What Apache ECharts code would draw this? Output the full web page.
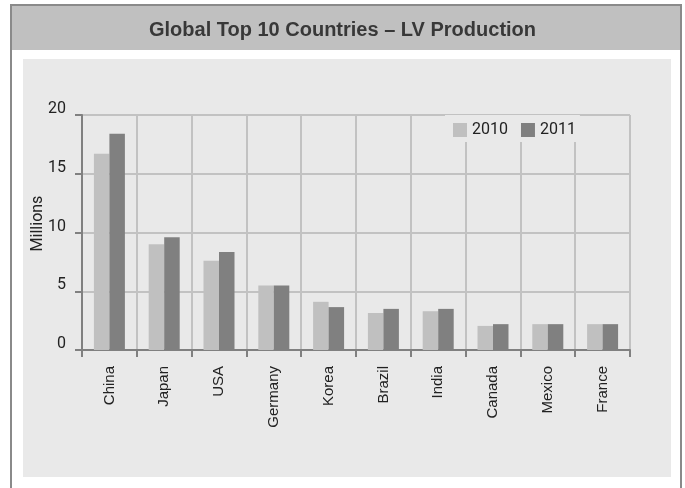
<!DOCTYPE html>
<html>
<head>
<meta charset="utf-8">
<script src="https://cdn.jsdelivr.net/npm/echarts@6/dist/echarts.min.js"></script>
<style>
html,body{margin:0;padding:0;background:#fff;}
#chart{width:685px;height:488px;}
</style>
</head>
<body>
<div id="chart"></div>
<script>
const categories = ['China','Japan','USA','Germany','Korea','Brazil','India','Canada','Mexico','France'];
const seriesNames = ['2010','2011'];
const values2010 = [16.7, 9.0, 7.6, 5.5, 4.1, 3.15, 3.3, 2.05, 2.2, 2.2];
const values2011 = [18.4, 9.6, 8.35, 5.5, 3.65, 3.5, 3.5, 2.2, 2.2, 2.2];
const yTicks = [0, 5, 10, 15, 20];
const titleText = 'Global Top 10 Countries \u2013 LV Production';
const yName = 'Millions';

const narrow = '"Roboto", sans-serif';
const chart = echarts.init(document.getElementById('chart'));
chart.setOption({
  animation: false,
  backgroundColor: '#ffffff',
  graphic: [
    {type:'rect', z:-20, shape:{x:11, y:6, width:670, height:44}, style:{fill:'#c0c0c0'}},
    {type:'rect', z:-20, shape:{x:23, y:59, width:648, height:418}, style:{fill:'#e9e9e9'}},
    {type:'polyline', z:-19, shape:{points:[[11,490],[11,5],[681,5],[681,490]]}, style:{stroke:'#8a8a8a', lineWidth:2, fill:null}}
  ],
  title: {
    text: titleText,
    left: 'center',
    top: 15,
    textStyle: {fontFamily:'"Liberation Sans", Arial, sans-serif', fontSize:20, fontWeight:'bold', color:'#383838'}
  },
  legend: {
    data: seriesNames,
    left: 445,
    top: 115,
    padding: [7, 4, 4, 8],
    backgroundColor: '#e9e9e9',
    icon: 'rect',
    itemWidth: 14,
    itemHeight: 14,
    itemGap: 13,
    textStyle: {fontFamily: narrow, fontSize: 16, color:'#222'}
  },
  grid: {left:82, right:55, top:115, bottom:138, containLabel:false},
  xAxis: {
    type: 'category',
    data: categories,
    boundaryGap: true,
    axisLine: {lineStyle:{color:'#808080', width:2}},
    axisTick: {show:true, length:7, alignWithLabel:false, lineStyle:{color:'#808080', width:2}},
    splitLine: {show:true, lineStyle:{color:'#c2c2c2', width:2}},
    axisLabel: {rotate:90, margin:16, fontFamily:'"Liberation Sans", Arial, sans-serif', fontSize:15, color:'#222', interval:0, padding:[0,0,4,0]}
  },
  yAxis: {
    type: 'value',
    min: yTicks[0],
    max: yTicks[yTicks.length-1],
    interval: 5,
    name: yName,
    nameLocation: 'middle',
    nameRotate: 90,
    nameGap: 36,
    nameMoveOverlap: false,
    nameTextStyle: {fontFamily: narrow, fontSize:16, color:'#222', padding:[0,0,0,18]},
    axisLine: {show:true, lineStyle:{color:'#808080', width:2}},
    axisTick: {show:true, length:7, lineStyle:{color:'#808080', width:2}},
    splitLine: {show:true, lineStyle:{color:'#c2c2c2', width:2}},
    axisLabel: {margin:16, fontFamily: narrow, fontSize:16, color:'#222', verticalAlign:'bottom', lineHeight:12}
  },
  series: [
    {name: seriesNames[0], type:'bar', data: values2010, barWidth:15.5, barGap:'0%', itemStyle:{color:'#c0c0c0'}},
    {name: seriesNames[1], type:'bar', data: values2011, barWidth:15.5, barGap:'0%', itemStyle:{color:'#808080'}}
  ]
});
</script>
</body>
</html>
